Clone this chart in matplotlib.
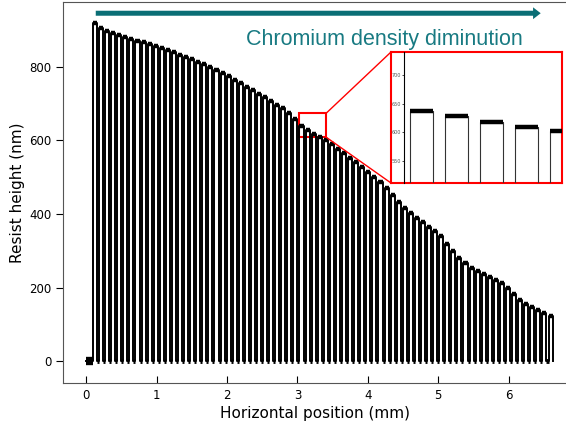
import matplotlib
matplotlib.use("Agg")
import matplotlib.pyplot as plt
from matplotlib.patches import Rectangle, ConnectionPatch, FancyArrowPatch
import numpy as np

# measured line pattern (mm)
first_rise = 0.095
pitch = 0.0863
top_width = 0.0576
trough_level = 0.0

# plateau height of every line, read left to right (nm)
heights = [918, 906, 898, 891, 885, 880, 875, 870, 866, 861,
           856, 851, 845, 839, 833, 827, 820, 813, 806, 799,
           791, 783, 774, 765, 756, 746, 737, 727, 717, 707,
           697, 687, 674, 658, 638, 628, 618, 609, 602, 590,
           577, 565, 552, 540, 527, 514, 500, 487, 472, 453,
           434, 417, 403, 390, 378, 366, 355, 340, 320, 300,
           282, 266, 254, 245, 236, 228, 221, 214, 200, 182,
           166, 156, 147, 139, 131, 124]

zoom_x = (3.016, 3.405)
zoom_y = (609, 673)
inset_ylim = (512, 740)
inset_ticks = [550, 600, 650, 700]

arrow_col = "#0a6e75"
text_col = "#187a82"

rises = first_rise + pitch * np.arange(len(heights))
falls = rises + top_width

# build the trace: up, across, down, along the bottom
xs = [0.0]
ys = [trough_level]
for r, f, h in zip(rises, falls, heights):
    xs += [r, r, f, f]
    ys += [trough_level, h, h, trough_level]

fig = plt.figure(figsize=(5.66, 4.25), dpi=100)
ax = fig.add_axes([0.1113, 0.0988, 0.8917, 0.8965])

ax.plot(xs, ys, color="black", lw=1.4)
ax.hlines(heights, rises, falls, color="black", lw=3.2)
ax.hlines(np.full(len(heights) - 1, trough_level), falls[:-1], rises[1:],
          color="black", lw=3.5)
ax.hlines(trough_level, 0.0, rises[0], color="black", lw=6)

ax.set_xlim(-0.331, 6.84)
ax.set_ylim(-58.6, 975.5)
ax.set_xticks(range(7))
ax.set_yticks([0, 200, 400, 600, 800])
ax.tick_params(axis="x", direction="in", length=5, labelsize=8.5, pad=4)
ax.tick_params(axis="y", direction="out", length=5, labelsize=8.5)
for s in ax.spines.values():
    s.set_color("#555555")
ax.set_xlabel("Horizontal position (mm)", fontsize=11, labelpad=3)
ax.set_ylabel("Resist height (nm)", fontsize=11, labelpad=3)

ax.add_patch(FancyArrowPatch((0.095, 945), (6.496, 945),
                             arrowstyle="simple,head_length=5.5,head_width=8.5,tail_width=3.6",
                             mutation_scale=1, color=arrow_col, lw=0))
ax.text(4.235, 858, "Chromium density diminution", color=text_col,
        fontsize=15.5, family="Liberation Sans", ha="center", va="baseline")

ax.add_patch(Rectangle((zoom_x[0], zoom_y[0]), zoom_x[1] - zoom_x[0],
                       zoom_y[1] - zoom_y[0], fill=False, ec="red", lw=1.5))

# inset: red frame with a small plot inside
frame = fig.add_axes([0.6908, 0.5694, 0.3021, 0.3082])
frame.set_xticks([])
frame.set_yticks([])
for s in frame.spines.values():
    s.set_color("red")
    s.set_linewidth(1.5)

ins = fig.add_axes([0.7143, 0.5694, 0.2786, 0.3082])
ins.patch.set_alpha(0)
ins.plot(xs, ys, color="#333333", lw=0.8)
ins.hlines(heights, rises, falls, color="black", lw=3.2)
ins.set_xlim(*zoom_x)
ins.set_ylim(*inset_ylim)
ins.set_xticks([])
ins.set_yticks(inset_ticks)
ins.tick_params(axis="y", length=1.5, width=0.5, labelsize=3.5,
                labelcolor="#555555", pad=1)
for k in ["top", "right", "bottom"]:
    ins.spines[k].set_visible(False)
ins.spines["left"].set_linewidth(0.8)

for yb, yf in [(zoom_y[1], 1), (zoom_y[0], 0)]:
    con = ConnectionPatch(xyA=(zoom_x[1], yb), coordsA=ax.transData,
                          xyB=(0, yf), coordsB=frame.transAxes,
                          color="red", lw=1)
    fig.add_artist(con)

fig.savefig("out.png", dpi=100)
